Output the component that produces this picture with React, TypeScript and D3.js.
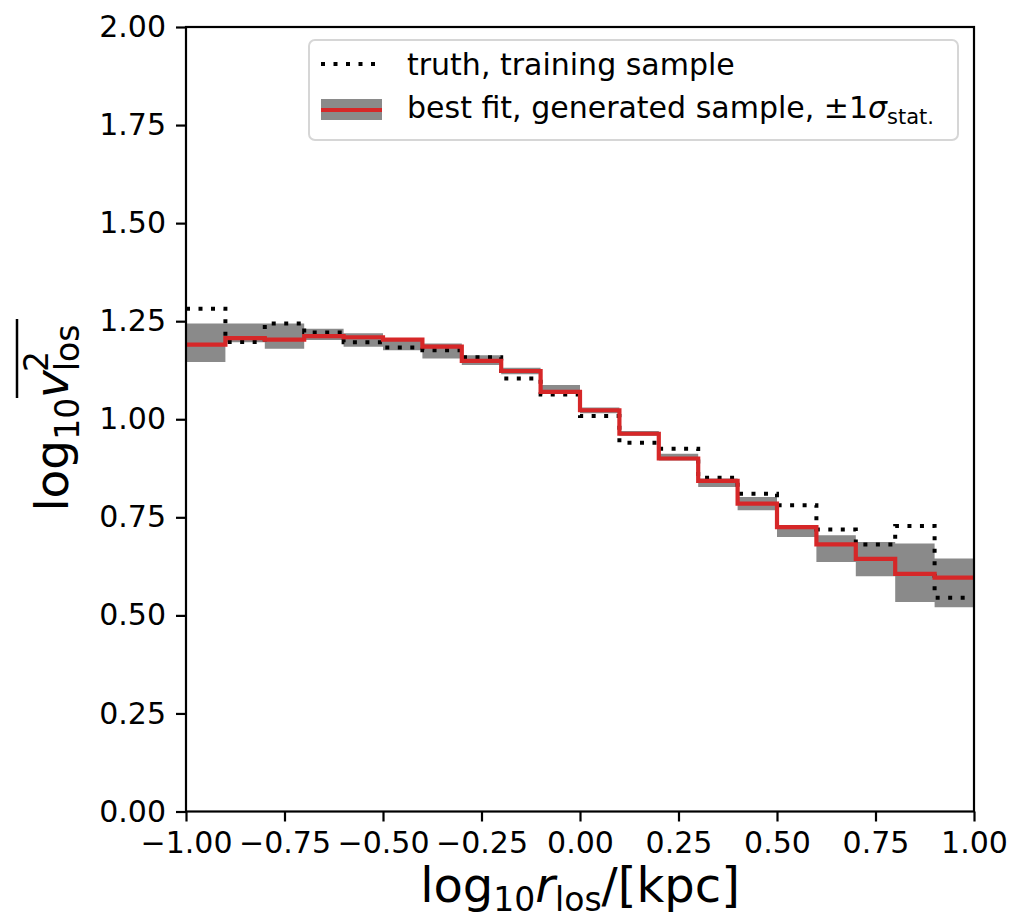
import { useEffect, useRef } from 'react';
import * as d3 from 'd3';

// bin edges in log10 r_los
const binEdges = [
  -1.0, -0.9, -0.8, -0.7, -0.6, -0.5, -0.4, -0.3, -0.2, -0.1, 0.0,
  0.1, 0.2, 0.3, 0.4, 0.5, 0.6, 0.7, 0.8, 0.9, 1.0,
];

// truth, training sample
const truthValues = [
  1.282, 1.197, 1.244, 1.221, 1.196, 1.183, 1.176, 1.158, 1.104, 1.063,
  1.008, 0.940, 0.925, 0.851, 0.810, 0.781, 0.719, 0.681, 0.728, 0.545,
];

// best fit, generated sample
const fitValues = [
  1.190, 1.207, 1.203, 1.212, 1.209, 1.203, 1.185, 1.149, 1.123, 1.070,
  1.023, 0.963, 0.900, 0.843, 0.785, 0.725, 0.681, 0.644, 0.606, 0.596,
];
const fitLower = [
  1.146, 1.196, 1.180, 1.202, 1.185, 1.176, 1.155, 1.138, 1.115, 1.066,
  1.015, 0.958, 0.895, 0.827, 0.768, 0.700, 0.636, 0.600, 0.534, 0.521,
];
const fitUpper = [
  1.244, 1.244, 1.244, 1.231, 1.219, 1.206, 1.193, 1.163, 1.131, 1.087,
  1.030, 0.970, 0.912, 0.849, 0.802, 0.730, 0.704, 0.687, 0.683, 0.645,
];

const xTicks = [-1.0, -0.75, -0.5, -0.25, 0.0, 0.25, 0.5, 0.75, 1.0];
const yTicks = [0.0, 0.25, 0.5, 0.75, 1.0, 1.25, 1.5, 1.75, 2.0];

const FONT = "'DejaVu Sans', sans-serif";

export default function App() {
  const svgRef = useRef<SVGSVGElement>(null);

  useEffect(() => {
    if (!svgRef.current) return;
    const svg = d3.select(svgRef.current);
    svg.selectAll('*').remove();

    const left = 186, right = 974, top = 27, bottom = 811.5;

    const x = d3.scaleLinear().domain([-1, 1]).range([left, right]);
    const y = d3.scaleLinear().domain([0, 2]).range([bottom, top]);

    svg.append('defs').append('clipPath').attr('id', 'plot-clip')
      .append('rect')
      .attr('x', left).attr('y', top)
      .attr('width', right - left).attr('height', bottom - top);

    // stepped series: repeat last value at right edge
    const steps = (vals: number[]) =>
      binEdges.map((e, i) => ({ x: e, v: vals[Math.min(i, vals.length - 1)] }));
    const bands = binEdges.map((e, i) => {
      const j = Math.min(i, fitLower.length - 1);
      return { x: e, lo: fitLower[j], hi: fitUpper[j] };
    });

    const plot = svg.append('g').attr('clip-path', 'url(#plot-clip)');

    const area = d3.area<{ x: number; lo: number; hi: number }>()
      .x(d => x(d.x))
      .y0(d => y(d.lo))
      .y1(d => y(d.hi))
      .curve(d3.curveStepAfter);

    plot.append('path')
      .datum(bands)
      .attr('d', area)
      .attr('fill', '#8a8a8a');

    const line = d3.line<{ x: number; v: number }>()
      .x(d => x(d.x))
      .y(d => y(d.v))
      .curve(d3.curveStepAfter);

    plot.append('path')
      .datum(steps(truthValues))
      .attr('d', line)
      .attr('fill', 'none')
      .attr('stroke', '#000')
      .attr('stroke-width', 4)
      .attr('stroke-dasharray', '4 8.5');

    plot.append('path')
      .datum(steps(fitValues))
      .attr('d', line)
      .attr('fill', 'none')
      .attr('stroke', '#d62728')
      .attr('stroke-width', 4.2);

    // axes
    const xAxis = svg.append('g')
      .attr('transform', `translate(0,${bottom})`)
      .call(d3.axisBottom(x).tickValues(xTicks).tickFormat(d3.format('.2f')).tickSize(10).tickPadding(10));
    const yAxis = svg.append('g')
      .attr('transform', `translate(${left},0)`)
      .call(d3.axisLeft(y).tickValues(yTicks).tickFormat(d3.format('.2f')).tickSize(10).tickPadding(10));

    [xAxis, yAxis].forEach(a => {
      a.select('.domain').remove();
      a.selectAll('line').attr('stroke', '#000').attr('stroke-width', 2.2);
      a.selectAll('text')
        .attr('fill', '#000')
        .style('font-family', FONT)
        .style('font-size', '30px');
    });

    svg.append('rect')
      .attr('x', left).attr('y', top)
      .attr('width', right - left).attr('height', bottom - top)
      .attr('fill', 'none')
      .attr('stroke', '#000')
      .attr('stroke-width', 2.2);

    // legend
    const leg = svg.append('g');
    leg.append('rect')
      .attr('x', 309).attr('y', 40)
      .attr('width', 649).attr('height', 100)
      .attr('rx', 6)
      .attr('fill', 'rgba(255,255,255,0.8)')
      .attr('stroke', '#d6d6d6')
      .attr('stroke-width', 2);

    leg.append('line')
      .attr('x1', 321).attr('x2', 382).attr('y1', 64).attr('y2', 64)
      .attr('stroke', '#000').attr('stroke-width', 4)
      .attr('stroke-dasharray', '4 8.5');
    leg.append('rect')
      .attr('x', 321).attr('y', 99).attr('width', 61).attr('height', 21)
      .attr('fill', '#8a8a8a');
    leg.append('line')
      .attr('x1', 321).attr('x2', 382).attr('y1', 110).attr('y2', 110)
      .attr('stroke', '#d62728').attr('stroke-width', 4.2);

    const legText = leg.append('g')
      .style('font-family', FONT)
      .style('font-size', '30px')
      .attr('fill', '#000');
    legText.append('text').attr('x', 407).attr('y', 75).text('truth, training sample');
    const t2 = legText.append('text').attr('x', 407).attr('y', 118);
    t2.append('tspan').text('best fit, generated sample, ±1');
    t2.append('tspan').style('font-style', 'italic').text('σ');
    t2.append('tspan').attr('dy', 6).style('font-size', '21px').text('stat.');

    // x label
    const xl = svg.append('text')
      .attr('x', (left + right) / 2)
      .attr('y', 902)
      .attr('text-anchor', 'middle')
      .style('font-family', FONT)
      .style('font-size', '48px')
      .attr('fill', '#000');
    xl.append('tspan').text('log');
    xl.append('tspan').attr('dy', 9).style('font-size', '33px').text('10');
    xl.append('tspan').attr('dy', -9).style('font-style', 'italic').text('r');
    xl.append('tspan').attr('dy', 9).style('font-size', '33px').text('los');
    xl.append('tspan').attr('dy', -9).text('/[kpc]');

    // y label
    const yg = svg.append('g').attr('transform', 'translate(68,418) rotate(-90)');
    const yl = yg.append('text')
      .attr('x', 0)
      .attr('y', 0)
      .attr('text-anchor', 'middle')
      .style('font-family', FONT)
      .style('font-size', '47px')
      .attr('fill', '#000');
    yl.append('tspan').text('log');
    yl.append('tspan').attr('dy', 11).style('font-size', '33px').text('10');
    yl.append('tspan').attr('dy', -11).style('font-style', 'italic').text('v');
    yl.append('tspan').attr('dy', -20).attr('dx', -2).style('font-size', '33px').text('2');
    yl.append('tspan').attr('dy', 31).attr('dx', -20).style('font-size', '33px').text('los');

    // overline across v²_los
    yg.append('line')
      .attr('x1', 20).attr('x2', 99)
      .attr('y1', -51).attr('y2', -51)
      .attr('stroke', '#000').attr('stroke-width', 2.5);
  }, []);

  return (
    <svg
      ref={svgRef}
      width={1012}
      height={921}
      style={{ position: 'absolute', left: 0, top: 0, background: '#fff' }}
    />
  );
}
